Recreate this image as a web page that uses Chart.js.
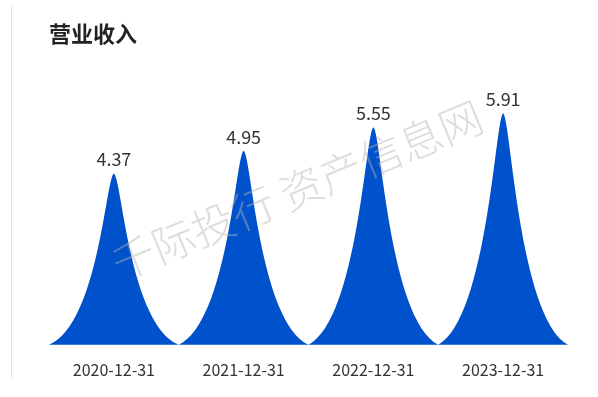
<!DOCTYPE html>
<html>
<head>
<meta charset="utf-8">
<script src="https://cdn.jsdelivr.net/npm/chart.js@4/dist/chart.umd.min.js"></script>
<style>
html,body{margin:0;padding:0;background:#fff;}
#wrap{position:relative;width:598px;height:397px;}
</style>
</head>
<body>
<div id="wrap"><canvas id="c" width="598" height="397"></canvas></div>
<script>
const categories = ['2020-12-31', '2021-12-31', '2022-12-31', '2023-12-31'];
const revenue = [4.37, 4.95, 5.55, 5.91];
const titleText = '营业收入';
const watermarkText = '千际投行 资产信息网';

const BLUE = '#0052cc';
const FONT = "'Noto Sans CJK SC', 'Noto Sans', sans-serif";

const spikePlugin = {
  id: 'spikes',
  beforeDraw(chart) {
    const ctx = chart.ctx;
    ctx.save();
    ctx.strokeStyle = '#e4e4e4';
    ctx.lineWidth = 1;
    ctx.beginPath();
    ctx.moveTo(11.5, 6);
    ctx.lineTo(11.5, 378);
    ctx.stroke();
    ctx.restore();
  },
  afterDatasetsDraw(chart) {
    const ctx = chart.ctx;
    const meta = chart.getDatasetMeta(0);
    const xs = chart.scales.x;
    const W = xs.width / categories.length;
    ctx.save();
    meta.data.forEach((el, i) => {
      const cx = el.x, top = el.y, base = el.base, h = base - top;
      ctx.beginPath();
      ctx.moveTo(cx - W / 2, base);
      ctx.bezierCurveTo(cx - 0.12 * W, top + 0.88 * h, cx - 0.06 * W, top + 0.02 * h, cx, top);
      ctx.bezierCurveTo(cx + 0.06 * W, top + 0.02 * h, cx + 0.12 * W, top + 0.88 * h, cx + W / 2, base);
      ctx.closePath();
      ctx.fillStyle = BLUE;
      ctx.fill();
      ctx.fillStyle = '#333';
      ctx.font = '18px ' + FONT;
      ctx.textAlign = 'center';
      ctx.textBaseline = 'bottom';
      ctx.fillText(revenue[i].toFixed(2), cx, top - 5);
    });
    ctx.restore();
  },
  afterDraw(chart) {
    const ctx = chart.ctx;
    ctx.save();
    ctx.translate(297, 190);
    ctx.rotate(-22.5 * Math.PI / 180);
    ctx.font = '300 43px ' + FONT;
    ctx.fillStyle = 'rgba(180,180,180,0.45)';
    ctx.textAlign = 'center';
    ctx.textBaseline = 'middle';
    ctx.fillText(watermarkText, 0, 0);
    ctx.restore();
  }
};

new Chart(document.getElementById('c'), {
  type: 'bar',
  data: {
    labels: categories,
    datasets: [{
      data: revenue,
      backgroundColor: 'rgba(0,0,0,0)',
      borderWidth: 0,
      barPercentage: 1,
      categoryPercentage: 1
    }]
  },
  options: {
    responsive: false,
    animation: false,
    devicePixelRatio: 1,
    layout: { padding: { left: 49, right: 30, top: 0, bottom: 1 } },
    plugins: {
      legend: { display: false },
      tooltip: { enabled: false },
      title: {
        display: true,
        text: titleText,
        align: 'start',
        color: '#222',
        font: { size: 22, weight: 'bold', family: FONT },
        padding: { top: 20, bottom: 24 }
      }
    },
    scales: {
      x: {
        grid: { display: false, drawTicks: false },
        border: { display: false },
        ticks: { color: '#333', font: { size: 16, family: FONT }, padding: 16 }
      },
      y: {
        display: false,
        min: 0,
        max: 7
      }
    }
  },
  plugins: [spikePlugin]
});
</script>
</body>
</html>
